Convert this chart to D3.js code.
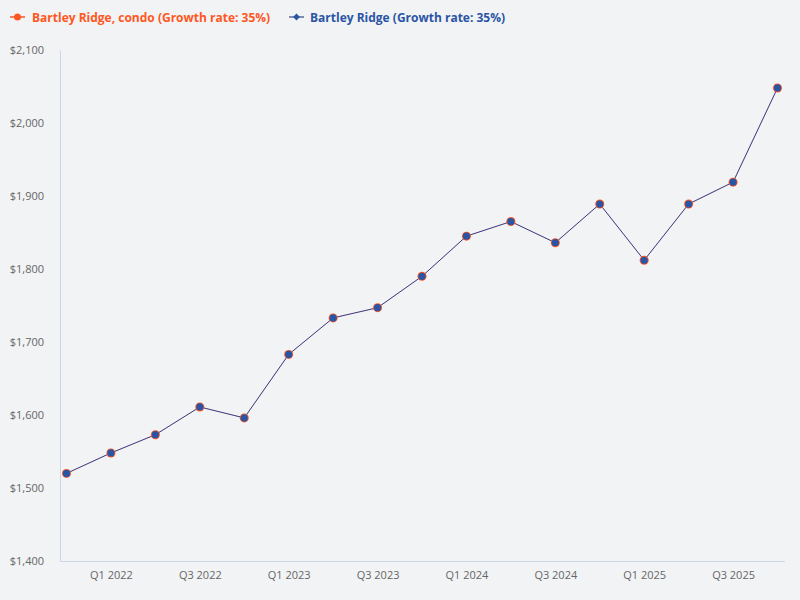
<!DOCTYPE html>
<html><head><meta charset="utf-8">
<script src="https://cdn.jsdelivr.net/npm/d3@7"></script>
<style>
html,body{margin:0;padding:0;background:#f2f3f5;}
svg{display:block;font-family:"Open Sans",sans-serif;}
</style></head>
<body>
<svg id="c" width="800" height="600"></svg>
<script>
const quarters = ["Q4 2021","Q1 2022","Q2 2022","Q3 2022","Q4 2022","Q1 2023","Q2 2023","Q3 2023","Q4 2023","Q1 2024","Q2 2024","Q3 2024","Q4 2024","Q1 2025","Q2 2025","Q3 2025","Q4 2025"];
const condoValues = [1520,1548,1573,1611,1596,1683,1733,1747,1790,1845,1865,1836,1889,1812,1889,1919,2048];
const ridgeValues = [1520,1548,1573,1611,1596,1683,1733,1747,1790,1845,1865,1836,1889,1812,1889,1919,2048];
const yTicks = [1400,1500,1600,1700,1800,1900,2000,2100];
const xTickLabels = ["Q1 2022","Q3 2022","Q1 2023","Q3 2023","Q1 2024","Q3 2024","Q1 2025","Q3 2025"];
const seriesNames = ["Bartley Ridge, condo (Growth rate: 35%)","Bartley Ridge (Growth rate: 35%)"];

const svg = d3.select("#c");
svg.append("rect").attr("width",800).attr("height",600).attr("fill","#f2f3f5");

const x = d3.scalePoint().domain(quarters).range([66.5,777.5]);
const y = d3.scaleLinear().domain([1400,2100]).range([561,50]);

// axes
const gy = svg.append("g").attr("transform","translate(60,0)")
  .call(d3.axisLeft(y).tickValues(yTicks).tickSize(0).tickPadding(16).tickFormat(d=>"$"+d3.format(",")(d)));
gy.select(".domain").attr("stroke","#ccd6e8");
gy.selectAll("text").attr("fill","#666666").attr("font-size","11px").attr("font-family","Open Sans");

const gx = svg.append("g").attr("transform","translate(0,561)")
  .call(d3.axisBottom(x).tickValues(xTickLabels).tickSize(0).tickPadding(10));
gx.select(".domain").remove();
gx.selectAll("text").attr("fill","#666666").attr("font-size","11px").attr("font-family","Open Sans");
svg.append("line").attr("x1",60).attr("x2",785).attr("y1",561.5).attr("y2",561.5).attr("stroke","#ccd6e8");

const line = d3.line().x((d,i)=>x(quarters[i])).y(d=>y(d));
svg.append("path").datum(condoValues).attr("d",line).attr("fill","none").attr("stroke","#ff5722").attr("stroke-width",0.6).attr("stroke-opacity",0.5);
svg.append("path").datum(ridgeValues).attr("d",line).attr("fill","none").attr("stroke","#3b3f8c").attr("stroke-width",1);

svg.append("g").selectAll("circle").data(condoValues).join("circle")
  .attr("cx",(d,i)=>x(quarters[i])).attr("cy",d=>y(d)).attr("r",4.5).attr("fill","#ff5722");
svg.append("g").selectAll("circle").data(ridgeValues).join("circle")
  .attr("cx",(d,i)=>x(quarters[i])).attr("cy",d=>y(d)).attr("r",3.6).attr("fill","#2a55a5");

// legend
const lg = svg.append("g");
lg.append("line").attr("x1",10).attr("x2",25).attr("y1",17).attr("y2",17).attr("stroke","#ff5722").attr("stroke-width",1.5);
lg.append("circle").attr("cx",17.5).attr("cy",17).attr("r",3.5).attr("fill","#ff5722");
lg.append("text").attr("x",32).attr("y",21.5).text(seriesNames[0]).attr("fill","#ff5722").attr("font-size","12px").attr("font-weight","bold");
lg.append("line").attr("x1",289).attr("x2",304).attr("y1",17).attr("y2",17).attr("stroke","#5a6a9a").attr("stroke-width",1.5);
lg.append("path").attr("d",d3.symbol(d3.symbolDiamond2,30)()).attr("transform","translate(296.5,17)").attr("fill","#2a55a5");
lg.append("text").attr("x",310).attr("y",21.5).text(seriesNames[1]).attr("fill","#2a55a5").attr("font-size","12px").attr("font-weight","bold");
</script>
</body></html>
